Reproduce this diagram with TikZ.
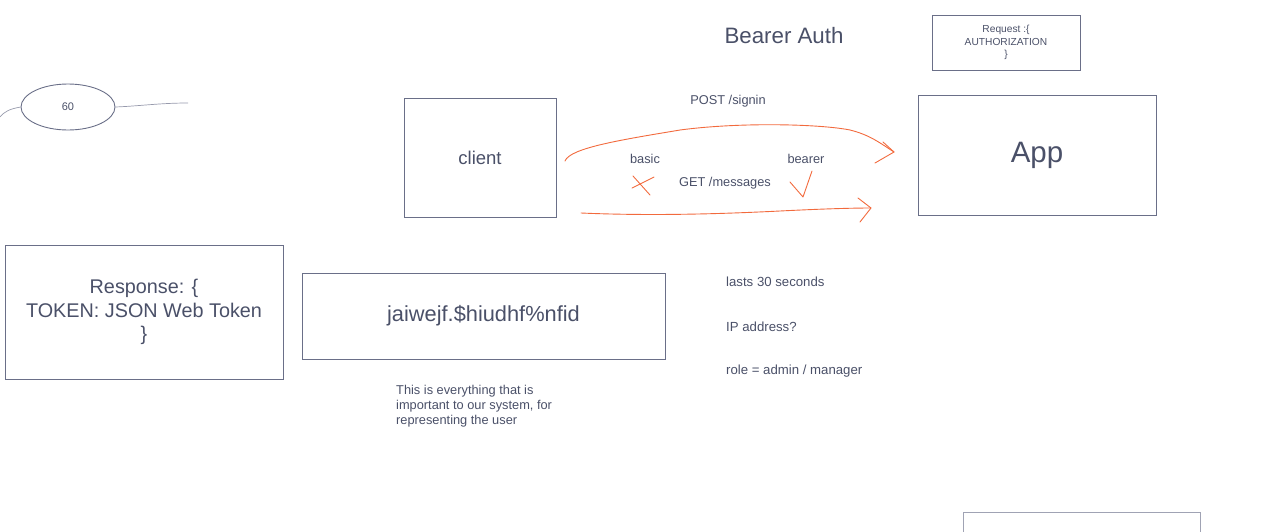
\documentclass[tikz,border=0pt]{standalone}
\usepackage{fontspec}
\setmainfont{Liberation Sans}
\usetikzlibrary{shapes.geometric}
\definecolor{txt}{HTML}{4A5068}
\definecolor{edge}{HTML}{6A6F88}
\definecolor{pen}{HTML}{F26A3D}
\definecolor{lightedge}{HTML}{A0A3B4}
\tikzset{
  box/.style={draw=edge, line width=0.9pt, inner sep=0pt, text=txt, align=center},
  lbl/.style={text=txt, inner sep=0pt},
  stroke/.style={draw=pen, line width=0.9pt, line cap=round, line join=round},
}
\begin{document}
\begin{tikzpicture}[x=1pt,y=-1pt]
\useasboundingbox (0,0) rectangle (1275,531);
% ellipse
\node[draw=edge, line width=0.9pt, ellipse, minimum width=94pt, minimum height=46pt, inner sep=0pt, text=txt, font=\fontsize{11}{12}\selectfont] (e60) at (68,107) {60};
\draw[draw=edge!70, line width=0.7pt] (e60.west) .. controls (10,109) and (5,111) .. (0,117);
\coordinate (eend) at (188,103);
\draw[draw=edge!70, line width=0.7pt] (e60.east) .. controls (140,106) and (160,103) .. (eend);
% boxes
\node[box, minimum width=152pt, minimum height=119pt, font=\fontsize{18.5}{22}\selectfont] (client) at (480,157.5) {client};
\node[box, minimum width=238pt, minimum height=120pt, font=\fontsize{29.5}{34}\selectfont] (app) at (1037,155) {\raisebox{-2pt}{App}};
\node[box, minimum width=148pt, minimum height=55pt, font=\fontsize{10.2}{12.5}\selectfont] (req) at (1006,42.5) {\raisebox{-2pt}{\parbox{140pt}{\centering Request :\{\\AUTHORIZATION\\\}}}};
\node[box, minimum width=278pt, minimum height=134pt, font=\fontsize{19.8}{23.5}\selectfont] (resp) at (144,312) {Response: \{\\TOKEN: JSON Web Token\\\}};
\node[box, minimum width=363pt, minimum height=86pt, font=\fontsize{21.8}{24}\selectfont] (jwt) at (483.5,316) {\raisebox{-1pt}{jaiwejf.\$hiudhf\%nfid}};
\node[draw=lightedge, line width=0.9pt, minimum width=237pt, minimum height=40pt, inner sep=0pt, anchor=north west] (bottom) at (963,512) {};
% labels
\node[lbl, font=\fontsize{22.3}{26}\selectfont] (title) at (784,36) {Bearer Auth};
\node[lbl, font=\fontsize{12.8}{15}\selectfont] (post) at (728,101) {POST /signin};
\node[lbl, font=\fontsize{12.8}{15}\selectfont] (basic) at (645,159) {basic};
\node[lbl, font=\fontsize{12.8}{15}\selectfont] (bearer) at (806,159) {bearer};
\node[lbl, font=\fontsize{12.8}{15}\selectfont] (get) at (725,183) {GET /messages};
\node[lbl, anchor=north west, align=left, font=\fontsize{12.8}{15}\selectfont] (desc) at (396,385) {This is everything that is\\important to our system, for\\representing the user};
\node[lbl, anchor=west, font=\fontsize{13.2}{15}\selectfont] (lasts) at (726,282) {lasts 30 seconds};
\node[lbl, anchor=west, font=\fontsize{13.2}{15}\selectfont] (ip) at (726,327) {IP address?};
\node[lbl, anchor=west, font=\fontsize{13.2}{15}\selectfont] (role) at (726,371) {role = admin / manager};
% orange strokes
\coordinate (a1s) at (565,161);
\coordinate (a1e) at (894,152);
\draw[stroke] (a1s) .. controls (570,148) and (620,140) .. (680,130) .. controls (740,122) and (820,124) .. (850,130) .. controls (870,135) and (880,143) .. (a1e);
\draw[stroke] (883,142) -- (a1e) -- (875,163);
\coordinate (a2s) at (581,213);
\coordinate (a2e) at (871,208);
\draw[stroke] (a2s) .. controls (650,216) and (720,214) .. (780,211) .. controls (820,209) and (850,208) .. (a2e);
\draw[stroke] (858,198) -- (a2e) -- (860,222);
% cross
\draw[stroke] (632,188) -- (654,177);
\draw[stroke] (633,176) -- (650,195);
% check
\draw[stroke] (790,182) -- (803,197) -- (812,171);
\end{tikzpicture}
\end{document}
